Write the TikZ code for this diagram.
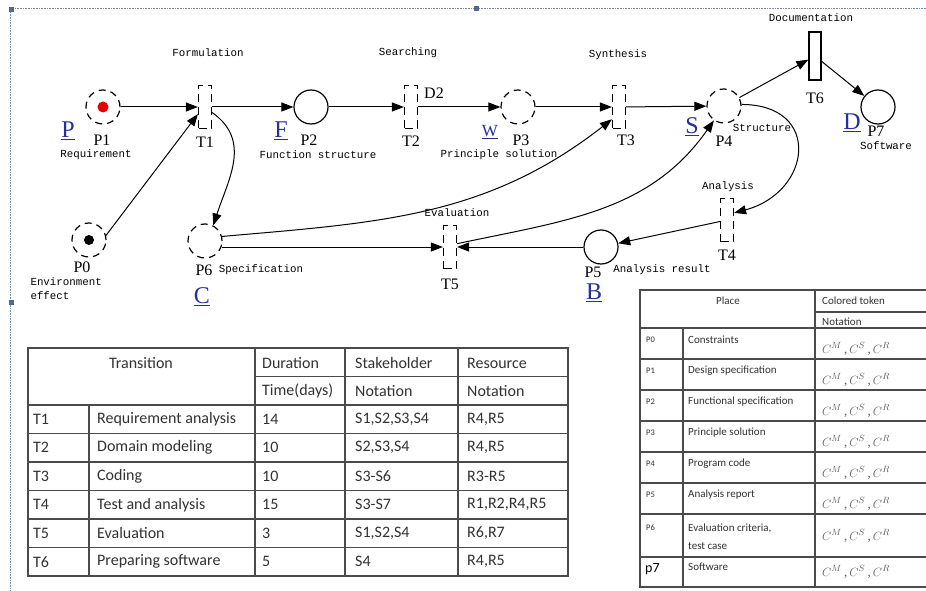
\documentclass[tikz,border=0pt]{standalone}
\usepackage{fontspec}
\setmainfont{Liberation Serif}
\newfontfamily\netfont{Liberation Mono}
\newfontfamily\tabfont{Carlito}
\usetikzlibrary{arrows.meta, positioning, calc}
\definecolor{LetterBlue}{RGB}{38,48,150}
\definecolor{FrameBlue}{RGB}{120,140,175}
\definecolor{HandleBlue}{RGB}{80,105,145}
\definecolor{RuleGray}{RGB}{75,75,75}
\definecolor{TabText}{RGB}{50,50,50}
\definecolor{TokenGray}{RGB}{95,95,95}

\tikzset{
  place/.style={circle, draw, line width=1.2pt, minimum size=34pt, inner sep=0pt},
  dplace/.style={place, dash pattern=on 7pt off 5pt},
  trans/.style={rectangle, draw, line width=1.2pt, dash pattern=on 8pt off 5pt,
                minimum width=13pt, minimum height=43pt, inner sep=0pt},
  arc/.style={line width=1pt, -{Triangle[length=12pt,width=9pt]}},
  act/.style={font=\netfont\fontsize{10.8}{12}\selectfont},
  pname/.style={font=\fontsize{16}{17}\selectfont},
  letter/.style={font=\fontsize{24}{26}\selectfont, text=LetterBlue},
  cell/.style={font=\tabfont\fontsize{16}{18}\selectfont, text=TabText, anchor=west, inner sep=0pt},
  smallcell/.style={font=\tabfont\fontsize{11}{13}\selectfont, text=TabText, anchor=west, inner sep=0pt},
  token/.style={text=TokenGray, anchor=west, inner sep=0pt, font=\fontsize{13}{15}\selectfont},
  rule/.style={draw=RuleGray, line width=1.1pt}
}

\begin{document}
\begin{tikzpicture}[x=1pt, y=1pt]
    \useasboundingbox (0,0) rectangle (926,-591);
    \fill[white] (0,0) rectangle (926,-591);

    % canvas frame
    \draw[FrameBlue, densely dotted, line width=0.6pt] (926,-8) -- (10,-8) -- (10,-591);
    \fill[HandleBlue] (9,-7) rectangle (14,-12);
    \fill[HandleBlue] (474,-6) rectangle (479,-11);
    \fill[HandleBlue] (9,-300) rectangle (14,-305);

    % places
    \node[dplace] (p1) at (103,-107) {};
    \node[place]  (p2) at (311,-107) {};
    \node[dplace] (p3) at (518,-107) {};
    \node[dplace] (p4) at (724,-106) {};
    \node[place]  (p7) at (878,-107) {};
    \node[dplace] (p0) at (89,-240) {};
    \node[dplace] (p6) at (205,-241) {};
    \node[place]  (p5) at (601,-247) {};
    \fill[red!90!black] (p1) circle (5.5pt);
    \fill[black] (p0) circle (5pt);

    % transitions
    \node[trans] (t1) at (205,-107) {};
    \node[trans] (t2) at (411,-107) {};
    \node[trans] (t3) at (619,-107) {};
    \node[trans] (t4) at (727,-220) {};
    \node[trans] (t5) at (450,-247) {};
    \node[rectangle, draw, line width=1.2pt, minimum width=12pt, minimum height=48pt, inner sep=0pt] (t6) at (815,-56) {};

    % arcs
    \draw[arc] (p1) -- (t1);
    \draw[arc] (p0.15) -- (t1.225);
    \draw[arc] (t1) -- (p2);
    \draw[arc] (p2) -- (t2);
    \draw[arc] (t2) -- (p3);
    \draw[arc] (p3) -- (t3);
    \draw[arc] (t3) -- (p4);
    \draw[arc] (p4) -- (t6);
    \draw[arc] (t6) -- (p7);
    \draw[arc] (t1.-38) to[out=-35, in=72, looseness=1.1] (p6.62);
    \draw[arc] (p6.15) to[out=5, in=218] (t3.240);
    \draw[arc] (p6.-20) -- (p6.-20 -| t5.west);
    \draw[arc] (t5.25) to[out=12, in=235] (p4.235);
    \draw[arc] (p4.5) to[out=0, in=15, looseness=1.9] (t4.45);
    \draw[arc] (t4) -- (p5);
    \draw[arc] (p5) -- (t5);

    % transition labels
    \node[act] (l1) at (208,-53) {Formulation};
    \node[act] (l2) at (408,-53) {Searching};
    \node[act] (l3) at (618,-55) {Synthesis};
    \node[act] (l6) at (811,-18) {Documentation};
    \node[act] (l4) at (728,-187) {Analysis};
    \node[act] (l5) at (457,-213) {Evaluation};
    \node[pname] (n1) at (205,-142) {T1};
    \node[pname] (n2) at (411,-141) {T2};
    \node[pname] (n3) at (626,-140) {T3};
    \node[pname] (n6) at (815,-98) {T6};
    \node[pname] (n4) at (727,-255) {T4};
    \node[pname] (n5) at (450,-284) {T5};
    \node[pname] (d2) at (434,-93) {D2};

    % place labels
    \node[pname] (m1) at (102,-140) {P1};
    \node[pname] (m2) at (309,-140) {P2};
    \node[pname] (m3) at (521,-140) {P3};
    \node[pname] (m4) at (724,-141) {P4};
    \node[pname] (m7) at (876,-131) {P7};
    \node[pname] (m0) at (82,-267) {P0};
    \node[pname] (m6) at (204,-270) {P6};
    \node[pname] (m5) at (593,-272) {P5};
    \node[act] (r1) at (96,-155) {Requirement};
    \node[act] (r2) at (318,-155) {Function structure};
    \node[act] (r3) at (499,-155) {Principle solution};
    \node[act] (r4) at (762,-128) {Structure};
    \node[act] (r7) at (886,-146) {Software};
    \node[act, anchor=west] (r0) at (27,-282) {Environment};
    \node[act, anchor=west] (r0b) at (27,-296) {effect};
    \node[act] (r6) at (261,-270) {Specification};
    \node[act] (r5) at (662,-270) {Analysis result};
    \node[letter] (bp) at (68,-131) {\underline{P}};
    \node[letter] (bf) at (281,-131) {\underline{F}};
    \node[letter, font=\fontsize{17}{18}\selectfont] (bw) at (490,-132) {\underline{W}};
    \node[letter] (bs) at (692,-127) {\underline{S}};
    \node[letter] (bd) at (852,-123) {\underline{D}};
    \node[letter] (bc) at (202,-297) {\underline{C}};
    \node[letter] (bb) at (594,-293) {\underline{B}};

    % transition table
    \draw[rule] (28,-348) rectangle (568,-576);
    \draw[rule] (255,-348) -- (255,-576);
    \draw[rule] (345,-348) -- (345,-576);
    \draw[rule] (458,-348) -- (458,-576);
    \draw[rule] (89,-405) -- (89,-576);
    \draw[rule] (255,-376.5) -- (568,-376.5);
    \foreach \i in {0,...,5}
        \draw[rule] (28,-405-28.5*\i) -- (568,-405-28.5*\i);
    \node[cell, anchor=center] (h1) at (141,-363) {Transition};
    \node[cell] (h2) at (262,-363) {Duration};
    \node[cell] (h3) at (355,-363) {Stakeholder};
    \node[cell] (h4) at (467,-363) {Resource};
    \node[cell] (h5) at (262,-391) {Time(days)};
    \node[cell] (h6) at (355,-391) {Notation};
    \node[cell] (h7) at (467,-391) {Notation};
    \foreach \t/\n/\d/\s/\r [count=\i] in {T1/Requirement analysis/14/{S1,S2,S3,S4}/{R4,R5},
        T2/Domain modeling/10/{S2,S3,S4}/{R4,R5}, T3/Coding/10/S3-S6/R3-R5,
        T4/Test and analysis/15/S3-S7/{R1,R2,R4,R5}, T5/Evaluation/3/{S1,S2,S4}/{R6,R7},
        T6/Preparing software/5/S4/{R4,R5}}
    {
        \node[cell] at (33,-390.75-28.5*\i) {\t};
        \node[cell] at (97,-390.75-28.5*\i) {\n};
        \node[cell] at (262,-390.75-28.5*\i) {\d};
        \node[cell] at (355,-390.75-28.5*\i) {\s};
        \node[cell] at (467,-390.75-28.5*\i) {\r};
    }

    % place table
    \draw[rule] (940,-290) -- (640,-290) -- (640,-587) -- (940,-587);
    \draw[rule] (815,-290) -- (815,-587);
    \draw[rule] (683,-328) -- (683,-587);
    \draw[rule] (815,-312) -- (940,-312);
    \foreach \y in {328,359,390,421,452,483,514,557}
        \draw[rule] (640,-\y) -- (940,-\y);
    \node[smallcell, anchor=center] (k1) at (728,-301) {Place};
    \node[smallcell] (k2) at (822,-301) {Colored token};
    \node[smallcell] (k3) at (822,-322) {Notation};
    \foreach \p/\d [count=\i from 0] in {P0/Constraints, P1/Design specification,
        P2/Functional specification, P3/Principle solution, P4/Program code,
        P5/Analysis report}
    {
        \node[smallcell, font=\tabfont\fontsize{8.5}{10}\selectfont] at (646,-340-31*\i) {\p};
        \node[smallcell] at (688,-340-31*\i) {\d};
        \node[token] at (822,-349-31*\i) {$C^{M}$\,,\,$C^{S}$\,,\,$C^{R}$};
    }
    \node[smallcell, font=\tabfont\fontsize{8.5}{10}\selectfont] (q6) at (646,-528) {P6};
    \node[smallcell] (e6) at (688,-528) {Evaluation criteria,};
    \node[smallcell] (e6b) at (688,-546) {test case};
    \node[token] (c6) at (822,-536) {$C^{M}$\,,\,$C^{S}$\,,\,$C^{R}$};
    \node[smallcell, font=\tabfont\fontsize{14}{16}\selectfont, text=black] (q7) at (645,-569) {p7};
    \node[smallcell] (e7) at (688,-567) {Software};
    \node[token] (c7) at (822,-572) {$C^{M}$\,,\,$C^{S}$\,,\,$C^{R}$};
\end{tikzpicture}
\end{document}
